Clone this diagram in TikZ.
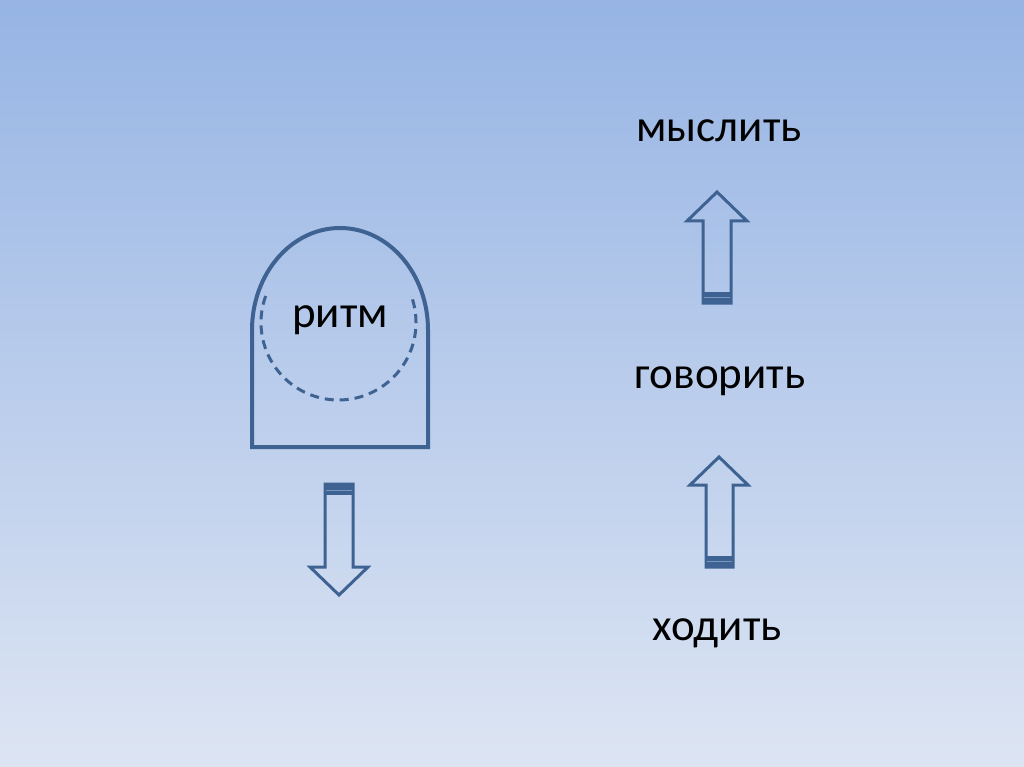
\documentclass[tikz,border=0pt]{standalone}
\usepackage{fontspec}
\setmainfont{Carlito}
\definecolor{bgtop}{RGB}{150,180,228}
\definecolor{bgbot}{RGB}{221,229,243}
\definecolor{ln}{RGB}{62,98,146}
\definecolor{lnlight}{RGB}{120,150,190}
\begin{document}
\begin{tikzpicture}[x=1pt,y=-1pt,
  lbl/.style={font=\fontsize{45}{54}\selectfont, text=black, inner sep=0pt},
  shapeline/.style={draw=ln, line width=4pt},
  blockarrow/.style={draw=ln, line width=3pt, line join=miter}]
\useasboundingbox (0,0) rectangle (1024,767);
\shade[top color=bgtop, bottom color=bgbot] (0,0) rectangle (1024,767);
% dome shape
\draw[shapeline] (252,447) -- (252,330) arc[start angle=180, end angle=360, x radius=88, y radius=102] -- (428,447) -- cycle;
\draw[ln, line width=3pt, dash pattern=on 9pt off 6pt] (338.5,322.5) ++(200:77.5) arc[start angle=200, end angle=-20, radius=77.5];
\node[lbl] (ritm) at (340,320) {ритм};
% down arrow
\draw[blockarrow] (325,484) -- (353,484) -- (353,567) -- (368,567) -- (339,595) -- (310,567) -- (325,567) -- cycle;
\fill[ln] (325,484) rectangle (353,495);
\draw[lnlight, line width=1pt] (326,490) -- (352,490);
% up arrow 1
\draw[blockarrow] (703,303) -- (703,221) -- (687,221) -- (717,192) -- (747,221) -- (731,221) -- (731,303) -- cycle;
\fill[ln] (703,292) rectangle (731,303);
\draw[lnlight, line width=1pt] (704,297) -- (730,297);
% up arrow 2
\draw[blockarrow] (706,567) -- (706,485) -- (690,485) -- (719,457) -- (748,485) -- (733,485) -- (733,567) -- cycle;
\fill[ln] (706,556) rectangle (733,567);
\draw[lnlight, line width=1pt] (707,561) -- (732,561);
\node[lbl] (myslit) at (719,131) {мыслить};
\node[lbl] (govorit) at (720,381) {говорить};
\node[lbl] (khodit) at (717,633) {ходить};
\end{tikzpicture}
\end{document}
